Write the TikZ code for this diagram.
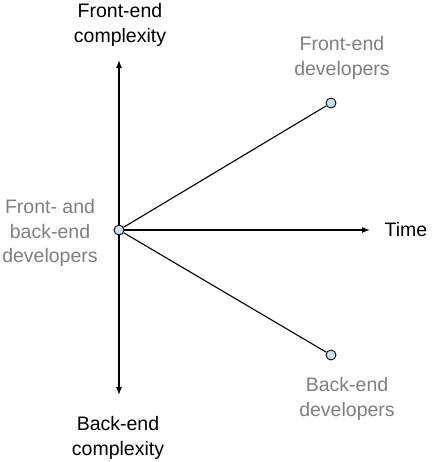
\documentclass[tikz,border=0pt]{standalone}
\usepackage{fontspec}
\setmainfont{Liberation Sans}
\usepackage{tikz}
\usetikzlibrary{arrows.meta,calc,positioning}
\definecolor{dotblue}{HTML}{C5E1F3}
\definecolor{labgray}{HTML}{7F7F7F}
\tikzset{
  dot/.style={circle,draw=black,fill=dotblue,line width=0.9pt,inner sep=0pt,minimum size=10pt},
  lab/.style={align=center,font=\fontsize{19.5}{24.5}\selectfont},
  grylab/.style={lab,text=labgray}
}
\begin{document}
\begin{tikzpicture}[x=1pt,y=-1pt,line width=1.1pt,>={Latex[length=8pt,width=6pt]}]
\useasboundingbox (0,0) rectangle (431,462);
\newcommand*{\ox}{119}; \newcommand*{\oy}{230};
\newcommand*{\px}{331};
\coordinate (top) at (\ox,60);
\coordinate (bot) at (\ox,395);
\coordinate (rgt) at (370,\oy);
\node[lab] (fecx) at (120,25) {Front-end\\complexity};
\node[lab] (becx) at (118,438) {Back-end\\complexity};
\node[lab] (time) at (406,\oy) {Time};
\node[grylab] (fedv) at (342,58) {Front-end\\developers};
\node[grylab] (bedv) at (347,399) {Back-end\\developers};
\node[grylab] (fbdv) at (50,233) {Front- and\\back-end\\developers};
\node[dot] (o) at (\ox,\oy) {};
\node[dot] (fe) at (\px,103) {};
\node[dot] (be) at (\px,355) {};
\draw[->] (o) to (top);
\draw[->] (o) to (bot);
\draw[->] (o) to (rgt);
\draw (o) to (fe);
\draw (o) to (be);
\end{tikzpicture}
\end{document}
